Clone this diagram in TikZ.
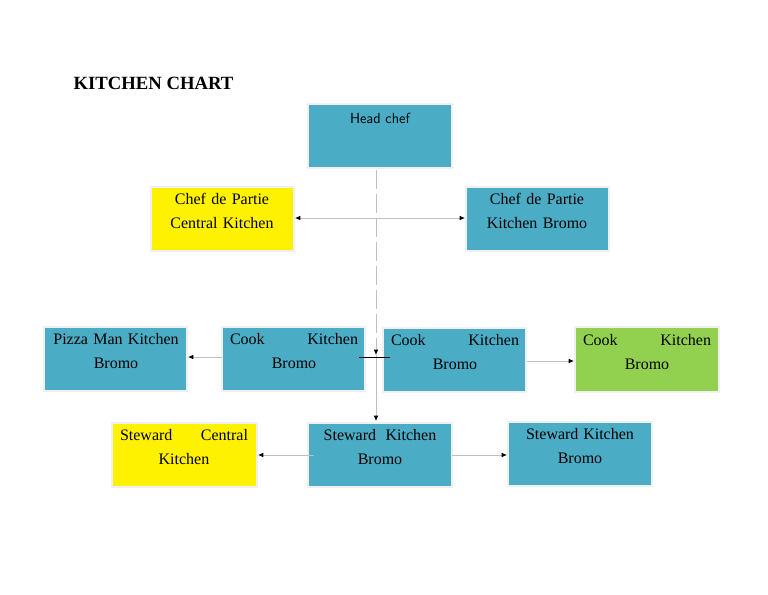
\documentclass[tikz,border=0pt]{standalone}
\usepackage{fontspec}
\setmainfont{Liberation Serif}
\usetikzlibrary{arrows.meta}
\definecolor{bl}{HTML}{4BACC6}
\definecolor{gr}{HTML}{92D050}
\definecolor{ln}{HTML}{BFBFBF}
\begin{document}
\begin{tikzpicture}[x=0.75pt,y=-0.75pt,
 box/.style={draw=black!6,line width=1.5pt,anchor=north west,inner sep=0pt},
 lbl/.style={align=center,font=\fontsize{12}{18}\selectfont,anchor=north,text width=136pt},
 con/.style={draw=ln,line width=0.6pt,-{Latex[length=4pt,width=3.5pt,black]}}]
\useasboundingbox (0,0) rectangle (768,594);
\node[anchor=west,font=\bfseries\fontsize{14}{16}\selectfont] (t) at (69,83) {KITCHEN CHART};
\newcommand\bx[6]{\fill[#6,draw=black!6,line width=1.5pt] (#2,#3) rectangle (#4,#5); \coordinate (#1) at ({(#2+#4)/2},#3);}
\bx{hc}{308}{104}{452}{168}{bl}
\bx{cc}{151}{187}{294}{251}{yellow}
\bx{cb}{466}{187}{609}{251}{bl}
\bx{pz}{44}{327}{187}{391}{bl}
\bx{c1}{222}{327}{365}{391}{bl}
\bx{c2}{383}{328}{526}{392}{bl}
\bx{c3}{575}{327}{719}{392}{gr}
\bx{sc}{112}{423}{257}{487}{yellow}
\bx{sb}{308}{423}{452}{487}{bl}
\bx{s2}{508}{422}{652}{486}{bl}
\node[font=\sffamily\fontsize{11}{14}\selectfont,anchor=north] (hct) at (380,108) {Head chef};
\node[lbl] (cct) at (222,189) {Chef de Partie\\Central Kitchen};
\node[lbl] (cbt) at (537,189) {Chef de Partie\\Kitchen Bromo};
\node[lbl,text width=100pt] (pzt) at (116,329) {Pizza Man Kitchen\\Bromo};
\node[lbl,text width=96pt] (c1t) at (294,329) {Cook\hfill Kitchen\\Bromo};
\node[lbl,text width=96pt] (c2t) at (455,330) {Cook\hfill Kitchen\\Bromo};
\node[lbl,text width=96pt] (c3t) at (647,330) {Cook\hfill Kitchen\\Bromo};
\node[lbl,text width=96pt] (sct) at (184,425) {Steward\hfill Central\\Kitchen};
\node[lbl,text width=96pt] (sbt) at (380,425) {Steward\hspace{0.6em}Kitchen\\Bromo};
\node[lbl,text width=96pt] (s2t) at (580,424) {Steward\hspace{0.3em}Kitchen\\Bromo};
\coordinate (v0) at (376,170); \coordinate (v1) at (376,355); \coordinate (v2) at (376,421);
\draw[con,dash pattern=on 14pt off 4pt] (v0) -- (v1);
\draw[con] (v1) -- (v2);
\coordinate (h0) at (376,218); \coordinate (hl) at (295,218); \coordinate (hr) at (465,218);
\draw[con] (h0) -- (hl); \draw[con] (h0) -- (hr);
\coordinate (a1) at (222,357); \coordinate (a1e) at (188,357);
\draw[con] (a1) -- (a1e);
\coordinate (a2) at (527,361); \coordinate (a2e) at (574,361);
\draw[con] (a2) -- (a2e);
\coordinate (k0) at (359,357); \coordinate (k1) at (390,357);
\draw[black,line width=0.7pt] (k0) -- (k1);
\coordinate (b1) at (314,455); \coordinate (b1e) at (258,455);
\draw[con] (b1) -- (b1e);
\coordinate (b2) at (452,455); \coordinate (b2e) at (507,455);
\draw[con] (b2) -- (b2e);
\end{tikzpicture}
\end{document}
